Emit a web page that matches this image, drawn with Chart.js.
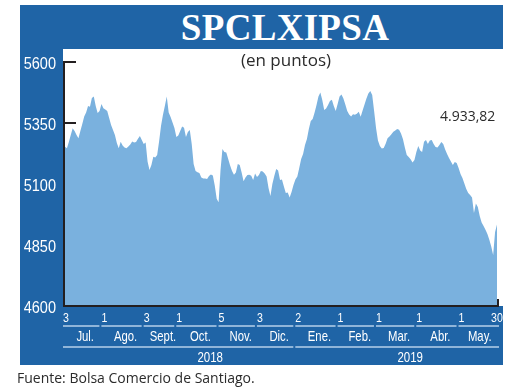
<!DOCTYPE html>
<html>
<head>
<meta charset="utf-8">
<script src="https://cdn.jsdelivr.net/npm/chart.js@4.4.1/dist/chart.umd.min.js"></script>
<style>
  html, body { margin: 0; padding: 0; background: #fff; }
  #wrap { position: relative; width: 520px; height: 390px; overflow: hidden; }
  #panel { position: absolute; left: 20px; top: 5px; width: 483px; height: 360px; background: #1f64a6; }
  #plotBg { position: absolute; left: 63px; top: 49px; width: 457px; height: 257px; background: #fff; }
  #title { position: absolute; left: 285px; top: 9px; transform: translateX(-50%); white-space: nowrap;
           font: bold 37px/37px 'Liberation Serif', 'DejaVu Serif', serif; color: #fff; letter-spacing: 0.3px; }
  #subtitle { position: absolute; left: 286px; top: 51px; transform: translateX(-50%); white-space: nowrap;
              font: 17px/17px 'Open Sans', sans-serif; color: #2b2b2b; }
  #source { position: absolute; left: 17px; top: 371px; white-space: nowrap;
            font: 14px/14px 'Open Sans', sans-serif; color: #2b2b2b; }
  canvas { position: absolute; left: 0; top: 0; }
</style>
</head>
<body>
<div id="wrap">
  <div id="panel"></div>
  <div id="plotBg"></div>
  <div id="title">SPCLXIPSA</div>
  <canvas id="ipsaChart" width="520" height="390"></canvas>
  <div id="subtitle">(en puntos)</div>
  <div id="source">Fuente: Bolsa Comercio de Santiago.</div>
</div>
<script>
// Daily closes, one array per month (Jul 2018 - May 2019)
const jul18 = [5253, 5247, 5272, 5301, 5328, 5317, 5301, 5287, 5317, 5346, 5377, 5393, 5420, 5417, 5452, 5459, 5420, 5391, 5399, 5428];
const ago18 = [5410, 5405, 5399, 5370, 5342, 5321, 5301, 5268, 5247, 5273, 5258, 5250, 5247, 5254, 5262, 5274, 5270, 5272, 5285, 5297, 5280, 5264];
const sep18 = [5270, 5192, 5157, 5178, 5212, 5209, 5219, 5274, 5338, 5383, 5420, 5459, 5393, 5375, 5352, 5329, 5293];
const oct18 = [5299, 5317, 5336, 5331, 5293, 5313, 5321, 5264, 5182, 5153, 5148, 5145, 5127, 5123, 5123, 5120, 5133, 5139, 5135, 5094, 5040, 5025];
const nov18 = [5157, 5243, 5231, 5229, 5202, 5176, 5153, 5138, 5147, 5182, 5178, 5147, 5111, 5127, 5137, 5138, 5134, 5116, 5143, 5129];
const dic18 = [5137, 5153, 5151, 5143, 5131, 5084, 5051, 5100, 5133, 5161, 5155, 5116, 5118, 5090, 5063, 5065, 5045, 5067, 5096, 5118];
const ene19 = [5131, 5166, 5202, 5223, 5260, 5284, 5325, 5358, 5366, 5393, 5424, 5459, 5475, 5444, 5403, 5409, 5424, 5440, 5445, 5420, 5399, 5428];
const feb19 = [5459, 5467, 5450, 5426, 5399, 5385, 5377, 5386, 5384, 5388, 5396, 5376, 5401, 5426, 5450, 5471, 5481, 5465, 5399, 5329];
const mar19 = [5278, 5256, 5245, 5248, 5265, 5288, 5295, 5304, 5314, 5319, 5325, 5322, 5307, 5284, 5250, 5219, 5211, 5201, 5188, 5198, 5231];
const abr19 = [5256, 5237, 5231, 5273, 5280, 5264, 5278, 5280, 5264, 5252, 5250, 5260, 5272, 5264, 5241, 5223, 5207, 5192, 5178, 5190, 5186, 5166];
const may19 = [5141, 5125, 5102, 5080, 5063, 5055, 5045, 4981, 5020, 5006, 4969, 4942, 4928, 4913, 4895, 4872, 4844, 4809, 4903, 4933.82];

const monthNames = ['Jul.', 'Ago.', 'Sept.', 'Oct.', 'Nov.', 'Dic.', 'Ene.', 'Feb.', 'Mar.', 'Abr.', 'May.'];
const startDays = ['3', '1', '3', '1', '5', '3', '2', '1', '1', '1', '1'];
const lastDay = '30';
const years = ['2018', '2019'];
const yearFirstMonth = [0, 6];
const yTicks = [4600, 4850, 5100, 5350, 5600];

const monthData = [jul18, ago18, sep18, oct18, nov18, dic18, ene19, feb19, mar19, abr19, may19];
const closes = monthData.flat();
const monthStarts = [];
monthData.reduce((acc, m) => { monthStarts.push(acc); return acc + m.length; }, 0);

const FILL_BLUE = '#7ab1de';
const AXIS_DARK = '#231f20';
const LINE_PALE = '#b7d0ea';
const SANS = "'Liberation Sans', Arial, sans-serif";

function formatEs(v) {
    const parts = v.toFixed(2).split('.');
    return parts[0].replace(/\B(?=(\d{3})+(?!\d))/g, '.') + ',' + parts[1];
}

// no narrow font installed, so squeeze the sans horizontally
function squeezedText(ctx, text, x, y, sx, align) {
    ctx.save();
    ctx.translate(x, y);
    ctx.scale(sx, 1);
    ctx.textAlign = align;
    ctx.fillText(text, 0, 0);
    ctx.restore();
}

// inner tick marks (under the fill), axis lines, y labels and the month/year band
const axisDecor = {
    id: 'axisDecor',
    beforeDatasetsDraw(chart) {
        const { ctx, chartArea: a, scales: { y } } = chart;
        ctx.save();
        ctx.strokeStyle = AXIS_DARK;
        ctx.lineWidth = 2;
        y.ticks.forEach(t => {
            const py = Math.round(y.getPixelForValue(t.value));
            ctx.beginPath();
            ctx.moveTo(a.left - 1, py);
            ctx.lineTo(a.left + 11, py);
            ctx.stroke();
        });
        ctx.restore();
    },
    afterDraw(chart) {
        const { ctx, chartArea: a, scales: { x, y } } = chart;
        ctx.save();

        // axis lines
        ctx.strokeStyle = AXIS_DARK;
        ctx.lineWidth = 2;
        ctx.beginPath();
        ctx.moveTo(a.left - 1, y.getPixelForValue(yTicks[yTicks.length - 1]) - 1);
        ctx.lineTo(a.left - 1, a.bottom);
        ctx.lineTo(a.right + 1, a.bottom);
        ctx.lineTo(a.right + 1, a.bottom - 7);
        ctx.stroke();

        ctx.fillStyle = '#fff';
        ctx.textBaseline = 'alphabetic';

        // y labels
        ctx.font = '16.5px ' + SANS;
        y.ticks.forEach(t => {
            squeezedText(ctx, String(t.value), a.left - 9, y.getPixelForValue(t.value) + 7, 0.88, 'right');
        });

        const lastIdx = closes.length - 1;
        const tickX = monthStarts.map(i => x.getPixelForValue(i));
        const endX = x.getPixelForValue(lastIdx);
        const nextX = k => (k + 1 < tickX.length ? tickX[k + 1] : endX);

        // first trading day of each month
        ctx.font = '12.5px ' + SANS;
        startDays.forEach((d, k) => squeezedText(ctx, d, tickX[k] + 1, 322, 0.85, 'center'));
        squeezedText(ctx, lastDay, endX, 322, 0.85, 'center');

        // month underlines + names
        ctx.strokeStyle = LINE_PALE;
        ctx.lineWidth = 1.5;
        ctx.font = '14.5px ' + SANS;
        monthNames.forEach((m, k) => {
            const x0 = tickX[k] - 2;
            const x1 = k === monthNames.length - 1 ? endX + 2 : nextX(k) - 4;
            ctx.beginPath();
            ctx.moveTo(x0, 326);
            ctx.lineTo(x1, 326);
            ctx.stroke();
            squeezedText(ctx, m, (tickX[k] + nextX(k)) / 2 + 1, 341, 0.78, 'center');
        });

        // years
        const yearLabelShift = [32, 13];
        ctx.font = '14px ' + SANS;
        years.forEach((yr, k) => {
            const x0 = tickX[yearFirstMonth[k]] - 2;
            const x1 = k + 1 < years.length ? tickX[yearFirstMonth[k + 1]] - 4 : endX + 2;
            ctx.beginPath();
            ctx.moveTo(x0, 347);
            ctx.lineTo(x1, 347);
            ctx.stroke();
            squeezedText(ctx, yr, (x0 + x1) / 2 + yearLabelShift[k], 362, 0.82, 'center');
        });

        // last value
        ctx.fillStyle = '#2b2b2b';
        ctx.textAlign = 'left';
        ctx.font = "14px 'Open Sans', sans-serif";
        ctx.fillText(formatEs(closes[lastIdx]), 440, 121);

        ctx.restore();
    }
};

new Chart(document.getElementById('ipsaChart'), {
    type: 'line',
    data: {
        datasets: [{
            label: 'SPCLXIPSA',
            data: closes.map((v, i) => ({ x: i, y: v })),
            fill: 'start',
            backgroundColor: FILL_BLUE,
            borderWidth: 0,
            pointRadius: 0,
            tension: 0
        }]
    },
    options: {
        responsive: false,
        animation: false,
        layout: { padding: { left: 20, top: 62, right: 23, bottom: 84 } },
        plugins: {
            legend: { display: false },
            tooltip: { enabled: false }
        },
        scales: {
            x: {
                type: 'linear',
                min: 0,
                max: closes.length - 1,
                display: false
            },
            y: {
                min: yTicks[0],
                max: yTicks[yTicks.length - 1],
                afterBuildTicks(scale) { scale.ticks = yTicks.map(v => ({ value: v })); },
                afterFit(scale) { scale.width = 45; },
                ticks: { display: false },
                grid: { display: false, drawTicks: false },
                border: { display: false }
            }
        }
    },
    plugins: [axisDecor]
});
</script>
</body>
</html>
